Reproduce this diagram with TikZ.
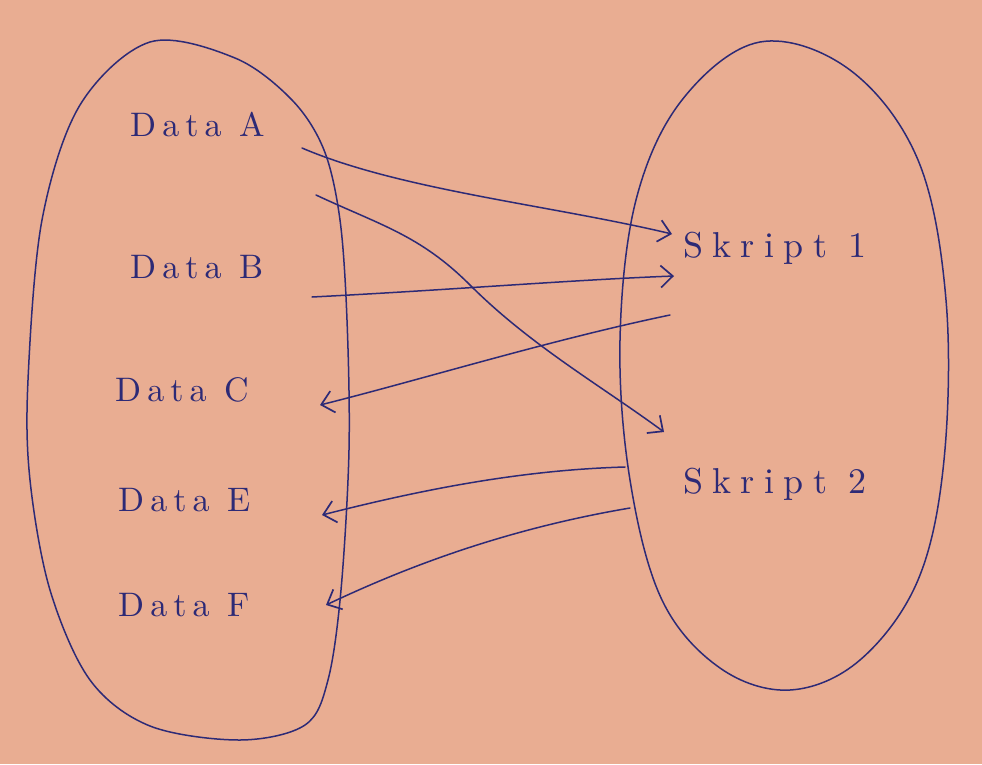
\documentclass[tikz,border=0pt]{standalone}
\usepackage{fontspec}
\usetikzlibrary{arrows.meta}
\newfontfamily\handD[LetterSpace=18]{lmroman10-regular.otf}
\newfontfamily\handS[LetterSpace=26]{lmroman10-regular.otf}
\definecolor{paper}{RGB}{233,173,146}
\definecolor{ink}{RGB}{45,42,118}
\tikzset{
  ink/.style={draw=ink,line width=1.5pt,line cap=round,line join=round},
  lbl/.style={text=ink,font=\handD\fontsize{34}{36}\selectfont,inner sep=0pt,anchor=west},
  slbl/.style={text=ink,font=\handS\fontsize{36}{38}\selectfont,inner sep=0pt,anchor=west},
  arr/.style={ink,-{Straight Barb[length=12pt,width=22pt,line width=1.7pt]}}
}
\begin{document}
\begin{tikzpicture}[x=1pt,y=-1pt]
\fill[paper] (0,0) rectangle (982,764);
\useasboundingbox (0,0) rectangle (982,764);
% sets
\draw[ink] plot[smooth cycle,tension=0.55] coordinates {(150,42) (235,58) (292,100) (324,150) (340,220) (347,320) (349,450) (341,590) (328,680) (305,725) (240,740) (150,726) (90,680) (50,590) (30,480) (28,380) (42,220) (80,105)};
\draw[ink] plot[smooth cycle,tension=0.6] coordinates {(760,42) (850,70) (918,160) (946,300) (944,460) (918,580) (860,660) (790,690) (720,668) (662,600) (630,480) (620,340) (636,200) (682,100)};
% labels
\node[lbl] (dA) at (130,125) {Data A};
\node[lbl] (dB) at (130,267) {Data B};
\node[lbl] (dC) at (115,390) {Data C};
\node[lbl] (dE) at (118,500) {Data E};
\node[lbl] (dF) at (118,605) {Data F};
\node[slbl] (s1) at (683,248) {Skript 1};
\node[slbl] (s2) at (683,484) {Skript 2};
% connector ends
\coordinate (a1) at (302,148);
\coordinate (a2) at (316,195);
\coordinate (b1) at (312,297);
\coordinate (c1) at (320,405);
\coordinate (e1) at (322,515);
\coordinate (f1) at (326,605);
\coordinate (s1a) at (672,234);
\coordinate (s1b) at (674,276);
\coordinate (s1c) at (670,315);
\coordinate (s2a) at (664,432);
\coordinate (s2b) at (625,467);
\coordinate (s2c) at (630,508);
% connectors
\draw[arr] (a1) .. controls (400,190) and (550,205) .. (s1a);
\draw[arr] (a2) .. controls (380,225) and (420,235) .. (470,285) .. controls (530,345) and (600,385) .. (s2a);
\draw[arr] (b1) .. controls (450,290) and (570,280) .. (s1b);
\draw[arr] (s1c) .. controls (550,340) and (420,380) .. (c1);
\draw[arr] (s2b) .. controls (520,470) and (420,490) .. (e1);
\draw[arr] (s2c) .. controls (500,530) and (400,570) .. (f1);
\end{tikzpicture}
\end{document}
